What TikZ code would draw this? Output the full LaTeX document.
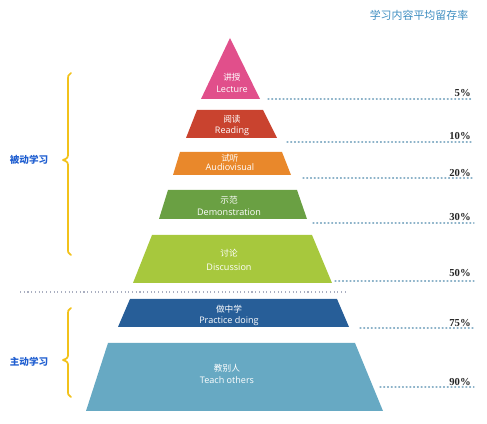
\documentclass[tikz,border=0pt]{standalone}
\usepackage{fontspec}
\setmainfont{Open Sans}
\newfontfamily\cjk{Noto Sans CJK SC}
\newfontfamily\pctfont{Liberation Serif}
\definecolor{cLect}{HTML}{E14F8B}
\definecolor{cRead}{HTML}{C9432F}
\definecolor{cAudio}{HTML}{E9882B}
\definecolor{cDemo}{HTML}{6AA043}
\definecolor{cDisc}{HTML}{A7C83D}
\definecolor{cPrac}{HTML}{275E98}
\definecolor{cTeach}{HTML}{67A9C3}
\definecolor{cTitle}{HTML}{3D8DC0}
\definecolor{cSide}{HTML}{1F5ED0}
\definecolor{cBrace}{HTML}{F2C21B}
\definecolor{cDot}{HTML}{8DB3C9}
\definecolor{cSep}{HTML}{A9AEC0}
\tikzset{
  cn/.style={text=white,font=\cjk\fontsize{6.5}{7}\selectfont,inner sep=0pt},
  en/.style={text=white,font=\fontsize{6.8}{7}\selectfont,inner sep=0pt},
  pct/.style={font=\pctfont\bfseries\fontsize{8}{9}\selectfont,anchor=east,inner sep=0pt,text=black!85},
  lead/.style={draw=cDot,dotted,line width=0.8pt,line cap=round},
  side/.style={text=cSide,font=\cjk\bfseries\fontsize{7.2}{8}\selectfont,inner sep=0pt},
  bracepath/.style={draw=cBrace,line width=1.3pt,line cap=round,line join=round},
}
\begin{document}
\begin{tikzpicture}[x=0.75pt,y=-0.75pt]
\useasboundingbox (0,0) rectangle (487,424);
% tiers
\fill[cLect] (230,38) -- (260,99) -- (201,99) -- cycle;
\fill[cRead] (197,110) -- (263,110) -- (277,138) -- (186,138) -- cycle;
\fill[cAudio] (180,152) -- (282,152) -- (291,175) -- (173,175) -- cycle;
\fill[cDemo] (168,190) -- (297,190) -- (307,219) -- (159,219) -- cycle;
\fill[cDisc] (152,235) -- (312,235) -- (332,283) -- (133,283) -- cycle;
\fill[cPrac] (130,299) -- (337,299) -- (349,327) -- (118,327) -- cycle;
\fill[cTeach] (108,343) -- (355,343) -- (383,411) -- (86,411) -- cycle;
% tier texts
\node[cn] (t1c) at (232,77) {讲授};
\node[en] (t1e) at (232,89) {Lecture};
\node[cn] (t2c) at (232,119) {阅读};
\node[en] (t2e) at (232,131.5) {Reading};
\node[cn] (t3c) at (230,158) {试听};
\node[en] (t3e) at (230,167.5) {Audiovisual};
\node[cn] (t4c) at (229,200) {示范};
\node[en] (t4e) at (229,212) {Demonstration};
\node[cn] (t5c) at (229,253) {讨论};
\node[en] (t5e) at (229,267) {Discussion};
\node[cn] (t6c) at (229,309) {做中学};
\node[en] (t6e) at (229,321) {Practice doing};
\node[cn] (t7c) at (227,368) {教别人};
\node[en] (t7e) at (227,380) {Teach others};
% title
\node[text=cTitle,font=\cjk\fontsize{8.2}{9}\selectfont,inner sep=0pt] (title) at (419,15) {学习内容平均留存率};
% percentages and leaders
\node[pct] (p1) at (471,93) {5\%};
\node[pct] (p2) at (471,136) {10\%};
\node[pct] (p3) at (471,173) {20\%};
\node[pct] (p4) at (471,217) {30\%};
\node[pct] (p5) at (471,273) {50\%};
\node[pct] (p6) at (471,323) {75\%};
\node[pct] (p7) at (471,382) {90\%};
\coordinate (l1) at (268,99);  \coordinate (r1) at (472,99);
\coordinate (l2) at (287,142); \coordinate (r2) at (472,142);
\coordinate (l3) at (303,178); \coordinate (r3) at (474,178);
\coordinate (l4) at (313,223); \coordinate (r4) at (474,223);
\coordinate (l5) at (335,281); \coordinate (r5) at (474,281);
\coordinate (l6) at (360,328); \coordinate (r6) at (474,328);
\coordinate (l7) at (380,387); \coordinate (r7) at (474,387);
\foreach \i in {1,...,7}{\draw[lead] (l\i) -- (r\i);}
% separator
\coordinate (s1) at (20,292); \coordinate (s2) at (348,292);
\draw[draw=cSep,dotted,line width=0.8pt] (s1) -- (s2);
% side labels
\node[side] (pass) at (29,160) {被动学习};
\node[side] (act) at (29,362) {主动学习};
% braces
\draw[bracepath] (71,73) .. controls (68,75) .. (68,82) -- (68,152) .. controls (68,158) .. (63,160) .. controls (68,162) .. (68,168) -- (68,248) .. controls (68,253) .. (71,255);
\draw[bracepath] (71,308) .. controls (68,310) .. (68,316) -- (68,353) .. controls (68,358) .. (63,360) .. controls (68,362) .. (68,367) -- (68,390) .. controls (68,395) .. (71,397);
\end{tikzpicture}
\end{document}
